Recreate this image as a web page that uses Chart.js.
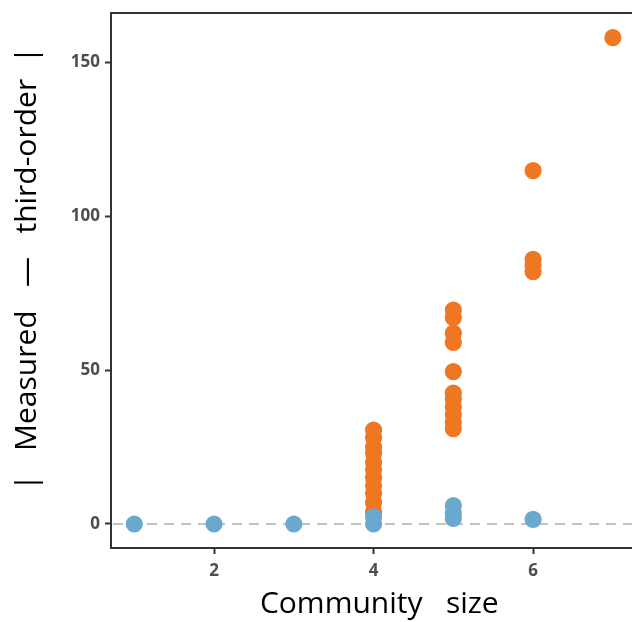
<!DOCTYPE html>
<html>
<head>
<meta charset="utf-8">
<script src="https://cdn.jsdelivr.net/npm/chart.js@4.4.1/dist/chart.umd.min.js"></script>
<style>
  html, body { margin: 0; padding: 0; background: #ffffff; }
  #wrap { width: 632px; height: 622px; }
</style>
</head>
<body>
<div id="wrap"><canvas id="c" width="632" height="622"></canvas></div>
<script>
// Community size (x) and |measured - third-order| (y) for each community
const orangeSizes  = [4, 4, 4, 4, 4, 4, 4, 4, 4, 4, 4,
                      5, 5, 5, 5, 5, 5, 5, 5, 5, 5, 5,
                      6, 6, 6, 6,
                      7];
const orangeValues = [30.5, 28, 25, 23, 20, 17.5, 15, 12.5, 10, 7, 4,
                      69.5, 67, 62, 59, 49.5, 42.5, 40.5, 38, 35.5, 33, 31,
                      114.8, 86, 84, 82,
                      158];
const blueSizes  = [1, 2, 3, 4, 4, 5, 5, 5, 6];
const blueValues = [0, 0, 0, 0, 2.3, 6, 3.5, 1.8, 1.5];

const xTicks = [2, 4, 6];
const yTicks = [0, 50, 100, 150];

const ORANGE = '#EF7722';
const BLUE = '#6BA8CF';
const AXIS = '#333333';
const TICK_TEXT = '#4d4d4d';
const NB = '\u00A0';

const toPoints = (xs, ys) => xs.map((x, i) => ({ x: x, y: ys[i] }));

// Dashed reference line at zero and the top frame edge
const framePlugin = {
  id: 'frame',
  beforeDatasetsDraw(chart) {
    const { ctx, chartArea, scales } = chart;
    const y0 = scales.y.getPixelForValue(0);
    ctx.save();
    ctx.strokeStyle = '#c2c2c2';
    ctx.lineWidth = 2;
    ctx.setLineDash([10, 7]);
    ctx.beginPath();
    ctx.moveTo(chartArea.left + 2, y0);
    ctx.lineTo(chartArea.right, y0);
    ctx.stroke();
    ctx.restore();
  },
  afterDraw(chart) {
    const { ctx, chartArea } = chart;
    ctx.save();
    ctx.strokeStyle = AXIS;
    ctx.lineWidth = 2;
    ctx.beginPath();
    ctx.moveTo(chartArea.left - 1, chartArea.top);
    ctx.lineTo(chartArea.right, chartArea.top);
    ctx.stroke();
    ctx.restore();
  }
};

const yTitle = NB.repeat(3) + '|' + NB.repeat(3) + 'Measured' + NB.repeat(3) + '—' +
               NB.repeat(3) + 'third-order' + NB.repeat(2) + '|';
const xTitle = NB.repeat(2) + 'Community' + NB.repeat(3) + 'size';

new Chart(document.getElementById('c'), {
  type: 'scatter',
  data: {
    datasets: [
      {
        label: 'low',
        data: toPoints(blueSizes, blueValues),
        backgroundColor: BLUE,
        pointRadius: 8.6,
        pointBorderWidth: 0,
        pointHoverRadius: 8.6
      },
      {
        label: 'high',
        data: toPoints(orangeSizes, orangeValues),
        backgroundColor: ORANGE,
        pointRadius: 8.6,
        pointBorderWidth: 0,
        pointHoverRadius: 8.6
      }
    ]
  },
  plugins: [framePlugin],
  options: {
    responsive: false,
    animation: false,
    layout: { autoPadding: false, padding: { top: 13, right: 0, left: 0, bottom: 0 } },
    plugins: {
      legend: { display: false },
      tooltip: { enabled: false }
    },
    scales: {
      x: {
        type: 'linear',
        min: 0.708,
        max: 7.24,
        afterBuildTicks: (s) => { s.ticks = xTicks.map(v => ({ value: v })); },
        afterFit: (s) => { s.height = 74; s.paddingLeft = 0; s.paddingRight = 0; },
        border: { display: true, color: AXIS, width: 2 },
        grid: { drawOnChartArea: false, drawTicks: true, tickLength: 6, tickColor: AXIS, tickWidth: 2 },
        ticks: {
          padding: 7,
          color: TICK_TEXT,
          font: { family: 'Open Sans', size: 17, weight: 'bold' }
        },
        title: {
          display: true,
          text: xTitle,
          color: '#000000',
          font: { family: 'Open Sans', size: 30, weight: 'normal' },
          padding: { top: 0, bottom: 0 }
        }
      },
      y: {
        type: 'linear',
        min: -7.8,
        max: 166,
        afterBuildTicks: (s) => { s.ticks = yTicks.map(v => ({ value: v })); },
        afterFit: (s) => { s.width = 111; s.paddingTop = 0; s.paddingBottom = 0; },
        border: { display: true, color: AXIS, width: 2 },
        grid: { drawOnChartArea: false, drawTicks: true, tickLength: 6, tickColor: AXIS, tickWidth: 2 },
        ticks: {
          padding: 5,
          color: TICK_TEXT,
          font: { family: 'Open Sans', size: 17, weight: 'bold' }
        },
        title: {
          display: true,
          text: yTitle,
          color: '#000000',
          font: { family: 'Open Sans', size: 30, weight: 'normal' },
          padding: { top: 9, bottom: 0 }
        }
      }
    }
  }
});
</script>
</body>
</html>
